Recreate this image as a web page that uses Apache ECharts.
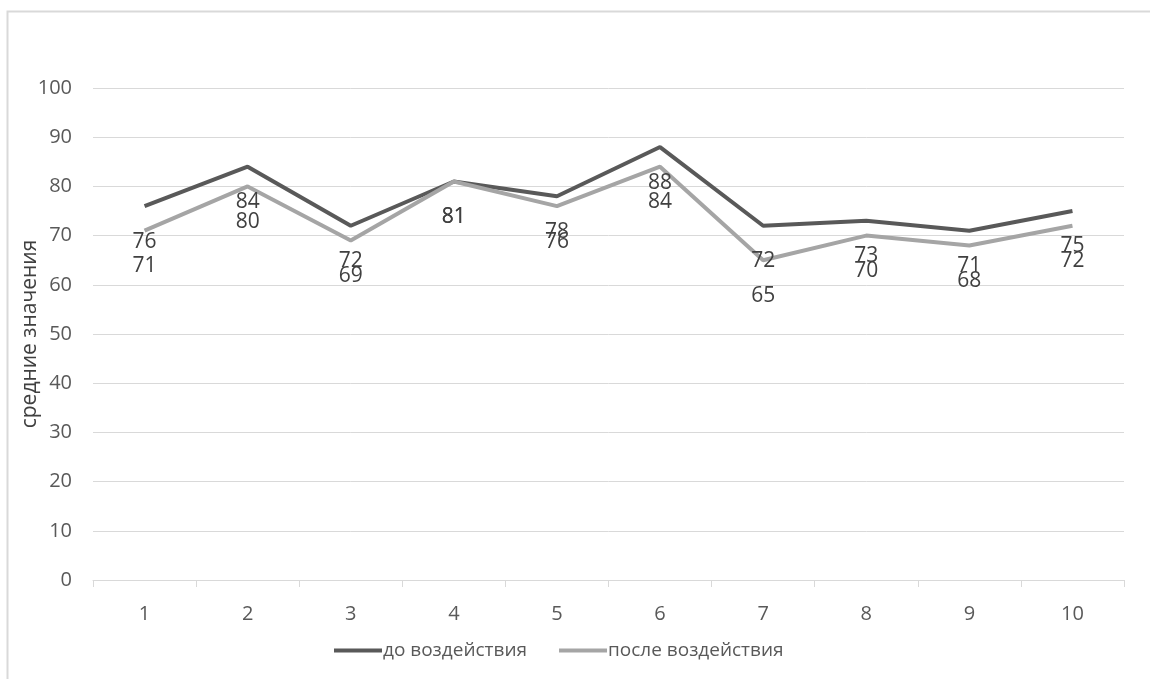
<!DOCTYPE html>
<html>
<head>
<meta charset="utf-8">
<script src="https://cdn.jsdelivr.net/npm/echarts@6/dist/echarts.min.js"></script>
<style>
  html, body { margin: 0; padding: 0; background: #fff; }
  #chart { width: 1150px; height: 679px; }
</style>
</head>
<body>
<div id="chart"></div>
<script>
// Group averages before and after the intervention
const categories = ['1', '2', '3', '4', '5', '6', '7', '8', '9', '10'];
const beforeValues = [76, 84, 72, 81, 78, 88, 72, 73, 71, 75];
const afterValues = [71, 80, 69, 81, 76, 84, 65, 70, 68, 72];
const seriesNames = ['до воздействия', 'после воздействия'];
const yAxisTitle = 'средние значения';

const FONT = '"Open Sans", "Noto Sans", sans-serif';
const chart = echarts.init(document.getElementById('chart'));

// value labels sit a fixed distance below each point
const labelStyle = {
  show: true,
  position: 'bottom',
  distance: 25,
  fontFamily: FONT,
  fontSize: 21,
  color: '#404040'
};

chart.setOption({
  backgroundColor: '#ffffff',
  animation: false,
  graphic: [{
    type: 'rect',
    shape: { x: 7.5, y: 11.5, width: 1200, height: 700 },
    style: { fill: 'none', stroke: '#d9d9d9', lineWidth: 2 },
    silent: true
  }],
  grid: { left: 93, right: 26, top: 88, bottom: 99, outerBoundsMode: 'none', containLabel: false },
  legend: {
    top: 636,
    left: 329,
    itemWidth: 48,
    itemHeight: 4,
    itemGap: 32,
    icon: 'rect',
    textStyle: { fontFamily: FONT, fontSize: 19, color: '#595959', padding: [0, 0, 0, -4] },
    data: seriesNames
  },
  xAxis: {
    type: 'category',
    data: categories,
    boundaryGap: true,
    axisLine: { lineStyle: { color: '#d9d9d9', width: 1 } },
    axisTick: { show: true, length: 7, lineStyle: { color: '#d9d9d9' } },
    axisLabel: { fontFamily: FONT, fontSize: 20, color: '#595959', margin: 24 }
  },
  yAxis: {
    type: 'value',
    min: 0,
    max: 100,
    interval: 10,
    name: yAxisTitle,
    nameLocation: 'middle',
    nameGap: 52,
    nameMoveOverlap: false,
    nameRotate: 90,
    nameTextStyle: { fontFamily: FONT, fontSize: 21, color: '#404040' },
    axisLine: { show: false },
    axisTick: { show: false },
    axisLabel: { fontFamily: FONT, fontSize: 20, color: '#595959', margin: 21 },
    splitLine: { lineStyle: { color: '#d9d9d9', width: 1 } }
  },
  series: [
    {
      name: seriesNames[0],
      type: 'line',
      data: beforeValues,
      symbol: 'circle',
      symbolSize: 0,
      showSymbol: true,
      lineStyle: { color: '#595959', width: 4 },
      itemStyle: { color: '#595959' },
      label: labelStyle
    },
    {
      name: seriesNames[1],
      type: 'line',
      data: afterValues,
      symbol: 'circle',
      symbolSize: 0,
      showSymbol: true,
      lineStyle: { color: '#a5a5a5', width: 4 },
      itemStyle: { color: '#a5a5a5' },
      label: labelStyle
    }
  ]
});
</script>
</body>
</html>
